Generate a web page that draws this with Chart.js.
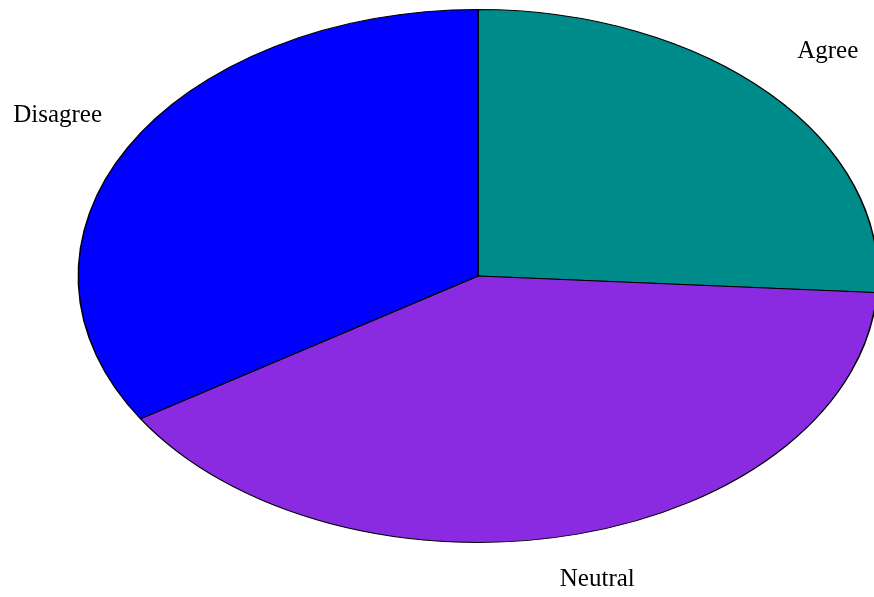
<!DOCTYPE html>
<html>
<head>
<meta charset="utf-8">
<script src="https://cdn.jsdelivr.net/npm/chart.js@4"></script>
<style>
  html, body { margin: 0; padding: 0; background: #fff; }
  #wrap { width: 874px; height: 597px; }
</style>
</head>
<body>
<div id="wrap"><canvas id="pie"></canvas></div>
<script>
// ── Data ─────────────────────────────────────────────
const labels = ['Agree', 'Neutral', 'Disagree'];
const values = [26, 40, 34];
const colors = ['#008b8b', '#8a2be2', '#0000ff'];

// pie is squashed into an ellipse: horizontal stretch factor
const STRETCH = 1.5;
const LABEL_K = 1.2;

const ellipsePlugin = {
  id: 'ellipse',
  beforeDatasetsDraw(chart) {
    const arc = chart.getDatasetMeta(0).data[0];
    const ctx = chart.ctx;
    ctx.save();
    ctx.translate(arc.x, arc.y);
    ctx.scale(STRETCH, 1);
    ctx.translate(-arc.x, -arc.y);
  },
  afterDatasetsDraw(chart) {
    chart.ctx.restore();
  },
  afterDraw(chart) {
    const ctx = chart.ctx;
    ctx.save();
    ctx.font = '25px "Liberation Serif", "Times New Roman", serif';
    ctx.fillStyle = '#000';
    ctx.textAlign = 'center';
    ctx.textBaseline = 'middle';
    chart.getDatasetMeta(0).data.forEach((a, i) => {
      const mid = (a.startAngle + a.endAngle) / 2;
      const x = a.x + Math.cos(mid) * a.outerRadius * STRETCH * LABEL_K;
      const y = a.y + Math.sin(mid) * a.outerRadius * LABEL_K - 6;
      ctx.fillText(labels[i], x, y);
    });
    ctx.restore();
  }
};

new Chart(document.getElementById('pie'), {
  type: 'pie',
  data: {
    labels,
    datasets: [{
      data: values,
      backgroundColor: colors,
      borderColor: '#000',
      borderWidth: 1,
    }]
  },
  options: {
    responsive: true,
    maintainAspectRatio: false,
    animation: false,
    layout: { padding: { top: 9, bottom: 54, left: 82, right: 0 } },
    plugins: {
      legend: { display: false },
      tooltip: { enabled: false }
    }
  },
  plugins: [ellipsePlugin]
});
</script>
</body>
</html>
